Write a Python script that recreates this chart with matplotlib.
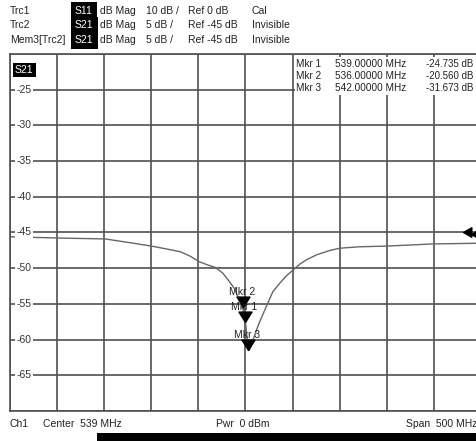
import matplotlib
matplotlib.use("Agg")
import matplotlib.pyplot as plt
from matplotlib.patches import Rectangle
from matplotlib.path import Path
from matplotlib.transforms import blended_transform_factory, offset_copy

plt.rcParams['font.family'] = ['Liberation Sans', 'DejaVu Sans']

# sweep settings
center_mhz = 539
span_mhz = 500
ref_level = -45
db_per_div = 5

# S21 trace (MHz, dB)
freq = [289, 349, 390, 405, 420, 439, 455, 470, 480, 490, 500, 507, 515, 522,
        527, 531, 536, 539, 542, 543, 546, 552, 555, 560, 563, 568, 576, 583,
        590, 597, 604, 615, 629, 639, 660, 689, 738, 789]
s21 = [-45.6, -45.8, -45.9, -46.2, -46.5, -46.9, -47.3, -47.7, -48.3, -49.1,
       -49.6, -49.9, -50.7, -51.9, -52.8, -54.0, -55.5, -57.6, -61.4, -61.5,
       -60.4, -58.2, -57.2, -55.7, -54.8, -53.3, -52.0, -51.0, -50.2, -49.4,
       -48.8, -48.1, -47.5, -47.2, -47.0, -46.9, -46.6, -46.5]

# markers
mkr_names = ['Mkr 1', 'Mkr 2', 'Mkr 3']
mkr_freq = [539, 536, 542]
mkr_trace_db = [-57.6, -55.5, -61.4]
mkr_table_db = [-24.735, -20.560, -31.673]

ref_arrow_x = [770, 778]

header_rows = [
    ['Trc1', 'S11', 'dB Mag', '10 dB /', 'Ref 0 dB', 'Cal'],
    ['Trc2', 'S21', 'dB Mag', '5 dB /', 'Ref -45 dB', 'Invisible'],
    ['Mem3[Trc2]', 'S21', 'dB Mag', '5 dB /', 'Ref -45 dB', 'Invisible'],
]

W, H = 477, 441
fig = plt.figure(figsize=(W / 100, H / 100), dpi=100)
fig.patch.set_facecolor('white')

def fx(px):
    return px / W

def fy(py):
    return 1 - py / H

ax = fig.add_axes([fx(10), fy(411), fx(471), 357 / H])
f0 = center_mhz - span_mhz / 2
f1 = center_mhz + span_mhz / 2
y_top = ref_level + 5 * db_per_div
y_bot = ref_level - 5 * db_per_div
ax.set_xlim(f0, f1)
ax.set_ylim(y_bot, y_top)
ax.set_xticks([f0 + i * span_mhz / 10 for i in range(11)])
ax.set_yticks([y_bot + i * db_per_div for i in range(11)])
ax.tick_params(length=0, labelleft=False, labelbottom=False)
ax.set_axisbelow(True)
ax.grid(True, color='#505050', lw=1.2)
for s in ax.spines.values():
    s.set_color('#505050')
    s.set_linewidth(1.2)

ax.plot(freq, s21, color='#666666', lw=1.0, zorder=2)

# y labels inside the grid
tr = blended_transform_factory(ax.transAxes, ax.transData)
for v in range(y_top - db_per_div, y_bot, -db_per_div):
    ax.text(0.03, v, str(v), transform=tr, ha='center', va='center',
            fontsize=7.5, color='#333333',
            bbox=dict(facecolor='white', edgecolor='none', pad=1.2), zorder=3)

ax.text(0.03, 0.955, 'S21', transform=ax.transAxes, ha='center', va='center',
        fontsize=7.5, color='white',
        bbox=dict(boxstyle='square,pad=0.2', facecolor='black', edgecolor='none'), zorder=3)

# markers: triangle with tip on the trace
tri = Path([(-5, 8), (5, 8), (0, 0), (-5, 8)], closed=True)
ax.plot(mkr_freq, mkr_trace_db, ls='none', marker=tri, ms=15,
        color='black', zorder=4)
lbl_tr = offset_copy(ax.transData, fig=fig, x=-1, y=15, units='dots')
for name, f, v in zip(mkr_names, mkr_freq, mkr_trace_db):
    ax.text(f, v, name, transform=lbl_tr, ha='center', va='center',
            fontsize=7.5, color='#222222', zorder=5)

# reference level arrows at the right
larr = Path([(7, -4), (7, 4), (0, 0), (7, -4)], closed=True)
ax.plot(ref_arrow_x, [ref_level, ref_level - 0.25], ls='none', marker=larr,
        ms=12, color='black', zorder=4)

# marker table
ax.add_patch(Rectangle(((295 - 10) / 471, (411 - 95) / 357), 0.5, 0.107,
                       transform=ax.transAxes, facecolor='white',
                       edgecolor='none', zorder=2.5))
for i, (name, f, v) in enumerate(zip(mkr_names, mkr_freq, mkr_table_db)):
    y = fy(64 + i * 12)
    fig.text(fx(296), y, name, fontsize=7.2, color='#222222', va='center')
    fig.text(fx(335), y, f'{f:.5f} MHz', fontsize=7.2, color='#222222', va='center')
    fig.text(fx(426), y, f'{v:.3f} dB', fontsize=7.0, color='#222222', va='center')

# header
col_x = [10, 75, 100, 146, 188, 252]
for r, row in enumerate(header_rows):
    y = fy(11 + r * 14.5)
    for c, (x, txt) in enumerate(zip(col_x, row)):
        if c == 1:
            fig.text(fx(x), y, txt, fontsize=7.5, color='white', va='center',
                     bbox=dict(boxstyle='square,pad=0.38', facecolor='black',
                               edgecolor='none'))
        else:
            fig.text(fx(x), y, txt, fontsize=7.5, color='#222222', va='center')

# footer
fig.text(fx(10), fy(424), 'Ch1', fontsize=7.5, color='#222222', va='center')
fig.text(fx(43), fy(424), f'Center  {center_mhz} MHz', fontsize=7.5,
         color='#222222', va='center')
fig.text(fx(216), fy(424), 'Pwr  0 dBm', fontsize=7.5, color='#222222', va='center')
fig.text(fx(406), fy(424), f'Span  {span_mhz} MHz', fontsize=7.5,
         color='#222222', va='center')
fig.patches.append(Rectangle((fx(97), 0), 1, 8 / H, transform=fig.transFigure,
                             facecolor='black', edgecolor='none'))

fig.savefig('out.png', dpi=100)
